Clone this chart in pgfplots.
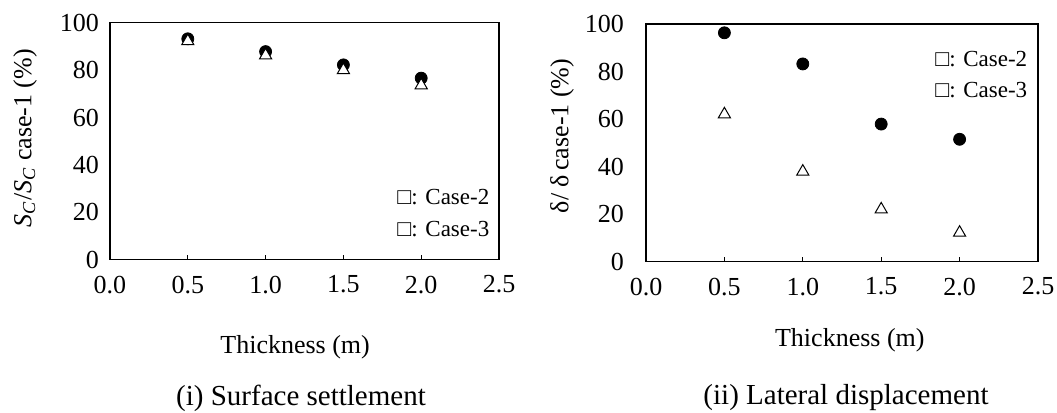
\documentclass[border=0pt]{standalone}
\usepackage{fontspec}
\setmainfont{Liberation Serif}
\usepackage{pgfplots}
\pgfplotsset{compat=1.18}
\begin{document}
\begin{tikzpicture}
\path[use as bounding box] (0pt,0pt) rectangle (528.5pt,206.5pt);
\pgfplotsset{
  myax/.style={
    scale only axis,
    anchor=south west,
    xmin=0, xmax=2.5, ymin=0, ymax=100,
    xtick={0,0.5,1,1.5,2,2.5},
    ytick={0,20,40,60,80,100},
    tick align=inside,
    xtick pos=left,
    ytick style={draw=none},
    major tick length=2.5pt,
    xtick style={black, line width=0.5pt},
    axis line style={black, line width=0.65pt},
    /pgf/number format/assume math mode=true,
    x tick label style={/pgf/number format/.cd, fixed, fixed zerofill, precision=1, /tikz/.cd, font=\fontsize{13}{15}\selectfont, yshift=-4.5pt},
    y tick label style={font=\fontsize{13}{15}\selectfont},
    label style={font=\fontsize{13}{15}\selectfont},
    clip=false,
  },
}
% ---------- (i) Surface settlement ----------
\begin{axis}[myax, at={(55pt,76.65pt)}, width=194.5pt, height=118.5pt,
  y tick label style={xshift=-2pt},
  xlabel={Thickness (m)},
  xlabel style={at={(axis description cs:0.476,-0.368)}, anchor=center},
  ylabel={\textit{S}\textsubscript{\textit{C}}/\textit{S}\textsubscript{\textit{C}} case-1 (\%)},
  ylabel style={at={(axis description cs:-0.2185,0.513)}, anchor=center},
]
\addplot[only marks, mark=*, mark size=3pt, black] coordinates {(0.5,93.2) (1,87.8) (1.5,82.2) (2,76.6)};
\addplot[only marks, mark=triangle*, mark size=3.5pt, black, fill=white, mark options={fill=white, line width=0.5pt}] coordinates {(0.5,92.2) (1,86.2) (1.5,80.0) (2,73.6)};
\node[anchor=west, font=\fontsize{11.5}{13}\selectfont, inner sep=0pt] at (axis cs:1.845,26.5) {□: Case-2};
\node[anchor=west, font=\fontsize{11.5}{13}\selectfont, inner sep=0pt] at (axis cs:1.845,13) {□: Case-3};
\end{axis}
% ---------- (ii) Lateral displacement ----------
\begin{axis}[myax, at={(323pt,75.65pt)}, width=196pt, height=118.85pt,
  y tick label style={xshift=-7.5pt},
  xlabel={Thickness (m)},
  xlabel style={at={(axis description cs:0.520,-0.329)}, anchor=center},
  ylabel={δ/ δ\,case-1 (\%)},
  ylabel style={at={(axis description cs:-0.214,0.529)}, anchor=center},
]
\addplot[only marks, mark=*, mark size=3pt, black] coordinates {(0.5,96.3) (1,83.2) (1.5,57.9) (2,51.5)};
\addplot[only marks, mark=triangle*, mark size=3.5pt, black, fill=white, mark options={fill=white, line width=0.5pt}] coordinates {(0.5,62.0) (1,37.9) (1.5,22.0) (2,12.2)};
\node[anchor=west, font=\fontsize{11.5}{13}\selectfont, inner sep=0pt] at (axis cs:1.843,85.3) {□: Case-2};
\node[anchor=west, font=\fontsize{11.5}{13}\selectfont, inner sep=0pt] at (axis cs:1.843,72.3) {□: Case-3};
\end{axis}
\node[font=\fontsize{14.5}{17}\selectfont] at (150.5pt,7.5pt) {(i) Surface settlement};
\node[font=\fontsize{14.5}{17}\selectfont] at (423pt,7.5pt) {(ii) Lateral displacement};
\end{tikzpicture}
\end{document}
